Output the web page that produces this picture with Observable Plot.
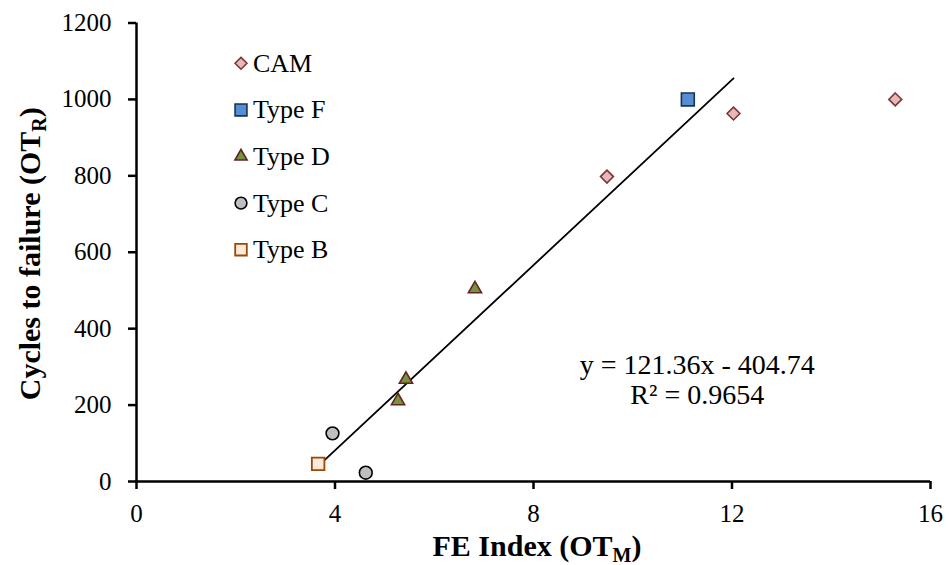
<!DOCTYPE html>
<html><head><meta charset="utf-8">
<script src="https://cdn.jsdelivr.net/npm/d3@7"></script>
<script src="https://cdn.jsdelivr.net/npm/@observablehq/plot@0.6"></script>
<style>
html,body{margin:0;padding:0;background:#fff;overflow:hidden}
#chart text{font-family:'Liberation Serif','Times New Roman',Times,serif;}
</style>
</head><body><div id="chart"></div>
<script>
// ---- data ----
const seriesNames = ["CAM", "Type F", "Type D", "Type C", "Type B"];
const camX = [9.48, 12.03, 15.29];
const camY = [798, 963, 1000];
const typeFX = [11.11];
const typeFY = [1000];
const typeDX = [5.27, 5.43, 6.82];
const typeDY = [211, 267, 504];
const typeCX = [3.95, 4.62];
const typeCY = [126, 23];
const typeBX = [3.66];
const typeBY = [46];
const trendX = [3.66, 12.03];
const trendY = [40, 1055];
const xTicks = [0, 4, 8, 12, 16];
const yTicks = [0, 200, 400, 600, 800, 1000, 1200];
const equationText = "y = 121.36x - 404.74\nR² = 0.9654";

// ---- styles ----
const FONT = "'Liberation Serif', 'Times New Roman', Times, serif";
const styles = {
  "CAM":    {symbol: "diamond2", d3sym: d3.symbolDiamond2, r: 5.8, fill: "#E6B9B8", stroke: "#7F3435", sw: 1.6},
  "Type F": {symbol: "square2",  d3sym: d3.symbolSquare2,  r: 8.2, fill: "#558ED5", stroke: "#1B324F", sw: 1.6},
  "Type D": {symbol: "triangle2",d3sym: d3.symbolTriangle2,r: 6.3, fill: "#77933C", stroke: "#632523", sw: 1.6},
  "Type C": {symbol: "circle",   d3sym: d3.symbolCircle,   r: 6.4, fill: "#BFBFBF", stroke: "#000000", sw: 1.6},
  "Type B": {symbol: "square2",  d3sym: d3.symbolSquare2,  r: 8.0, fill: "#FDE9D9", stroke: "#984807", sw: 1.8}
};
const seriesX = {"CAM": camX, "Type F": typeFX, "Type D": typeDX, "Type C": typeCX, "Type B": typeBX};
const seriesY = {"CAM": camY, "Type F": typeFY, "Type D": typeDY, "Type C": typeCY, "Type B": typeBY};

const points = seriesNames.flatMap(s => seriesX[s].map((x, i) => ({series: s, x, y: seriesY[s][i]})));
const trend = trendX.map((x, i) => ({x, y: trendY[i]}));

const dotMarks = seriesNames.map(s => {
  const st = styles[s];
  return Plot.dot(points.filter(d => d.series === s), {
    x: "x", y: "y", symbol: () => st.symbol, r: st.r,
    fill: st.fill, stroke: st.stroke, strokeWidth: st.sw
  });
});

const plot = Plot.plot({
  width: 950, height: 565,
  marginLeft: 136, marginRight: 20, marginTop: 22.5, marginBottom: 84,
  style: {fontFamily: FONT, fontSize: "25px", background: "#fff", color: "#000"},
  x: {domain: [0, 16], ticks: xTicks},
  y: {domain: [0, 1200], ticks: yTicks},
  marks: [
    Plot.axisX({ticks: xTicks, tickSize: 8, tickPadding: 15, fontSize: 25, fontFamily: FONT, strokeWidth: 2.5, label: null, tickFormat: d => String(d)}),
    Plot.axisY({ticks: yTicks, tickSize: 8, tickPadding: 17, fontSize: 25, fontFamily: FONT, strokeWidth: 2.5, label: null, tickFormat: d => String(d)}),
    Plot.ruleY([0], {stroke: "#000", strokeWidth: 2.5}),
    Plot.ruleX([0], {stroke: "#000", strokeWidth: 2.5}),
    Plot.line(trend, {x: "x", y: "y", stroke: "#000", strokeWidth: 1.8}),
    ...dotMarks,
    Plot.text([equationText], {x: () => 11.3, y: () => 268, text: d => d, fontSize: 28, fontFamily: FONT, lineHeight: 1.07, textAnchor: "middle", lineAnchor: "middle", fill: "#000"})
  ]
});

document.getElementById("chart").appendChild(plot);

// ---- axis titles with subscripts and legend ----
const svg = d3.select(plot);
const xs = plot.scale("x"), ys = plot.scale("y");
const xMid = (xs.range[0] + xs.range[1]) / 2;
const yMid = (ys.range[0] + ys.range[1]) / 2;

const xt = svg.append("text").attr("x", xMid + 4).attr("y", 556)
  .attr("text-anchor", "middle").attr("font-family", FONT).attr("font-weight", "bold").style("font-size", "30px").attr("fill", "#000");
xt.append("tspan").text("FE Index (OT");
xt.append("tspan").text("M").style("font-size", "20px").attr("dy", "6");
xt.append("tspan").text(")").attr("dy", "-6");

const yt = svg.append("text").attr("transform", `translate(40,${yMid + 2}) rotate(-90)`)
  .attr("text-anchor", "middle").attr("font-family", FONT).attr("font-weight", "bold").style("font-size", "30px").attr("fill", "#000");
yt.append("tspan").text("Cycles to failure (OT");
yt.append("tspan").text("R").style("font-size", "20px").attr("dy", "6");
yt.append("tspan").text(")").attr("dy", "-6");

const legendX = 241, legendY0 = 63.3, legendStep = 46.6;
const lg = svg.append("g");
seriesNames.forEach((s, i) => {
  const st = styles[s];
  const y = legendY0 + i * legendStep;
  lg.append("path")
    .attr("d", d3.symbol(st.d3sym, st.r * st.r * Math.PI * 0.85)())
    .attr("transform", `translate(${legendX},${y})`)
    .attr("fill", st.fill).attr("stroke", st.stroke).attr("stroke-width", st.sw);
  lg.append("text").attr("x", 253).attr("y", y).attr("dy", "0.33em")
    .attr("text-anchor", "start")
    .attr("font-family", FONT).style("font-size", "26px").attr("fill", "#000").text(s);
});
</script>
</body></html>
